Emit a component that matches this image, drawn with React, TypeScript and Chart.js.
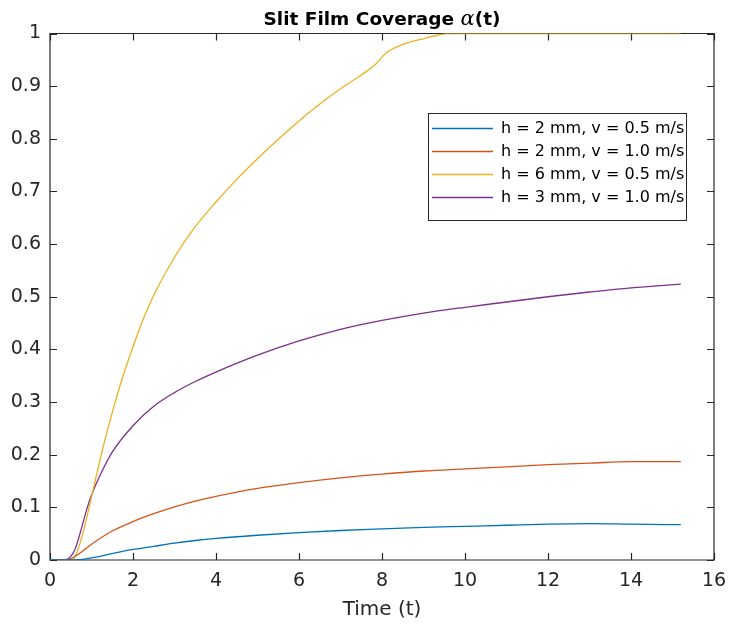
import React, { useEffect, useRef } from "react";
import { Chart, registerables } from "chart.js";

Chart.register(...registerables);

// ---- text ----
const TITLE_MAIN = "Slit Film Coverage ";
const TITLE_GREEK = "α";
const TITLE_TAIL = "(t)";
const X_LABEL = "Time (t)";

// ---- axes ----
const X_MIN = 0;
const X_MAX = 16;
const X_STEP = 2;
const Y_MIN = 0;
const Y_MAX = 1;
const Y_STEP = 0.1;

// ---- series ----
const seriesLabels = [
  "h = 2 mm, v = 0.5 m/s",
  "h = 2 mm, v = 1.0 m/s",
  "h = 6 mm, v = 0.5 m/s",
  "h = 3 mm, v = 1.0 m/s",
];
const seriesColors = ["#0072BD", "#D95319", "#EDB120", "#7E2F8E"];

const tBlue = [0, 0.3, 0.6, 1.0, 1.5, 2, 2.5, 3, 3.5, 4, 5, 6, 7, 8, 9, 10, 11, 12, 13, 14, 15.2];
const vBlue = [0, 0, 0, 0.004, 0.012, 0.02, 0.026, 0.032, 0.037, 0.041, 0.047, 0.052, 0.056, 0.059, 0.062, 0.064, 0.066, 0.068, 0.069, 0.068, 0.067];

const tRed = [0, 0.4, 0.7, 1.0, 1.5, 2, 2.5, 3, 3.5, 4, 5, 6, 7, 8, 9, 10, 11, 12, 13, 14, 15.2];
const vRed = [0, 0, 0.012, 0.03, 0.055, 0.073, 0.088, 0.101, 0.112, 0.121, 0.136, 0.147, 0.156, 0.163, 0.169, 0.173, 0.177, 0.181, 0.184, 0.187, 0.187];

const tYellow = [0, 0.5, 0.6, 0.77, 1.0, 1.25, 1.5, 1.75, 2, 2.25, 2.5, 3, 3.5, 4, 4.5, 5, 5.5, 6, 6.5, 7, 7.5, 7.85, 8.1, 8.5, 9, 9.6, 10, 12, 15.2];
const vYellow = [0, 0, 0.006, 0.044, 0.12, 0.205, 0.28, 0.347, 0.405, 0.458, 0.503, 0.575, 0.633, 0.68, 0.723, 0.762, 0.799, 0.834, 0.866, 0.895, 0.921, 0.942, 0.963, 0.979, 0.99, 1.0, 1.0, 1.0, 1.0];

const tPurple = [0, 0.3, 0.45, 0.6, 0.7, 0.9, 1.0, 1.25, 1.5, 2, 2.5, 3, 3.5, 4, 5, 6, 7, 8, 9, 10, 11, 12, 13, 14, 15.2];
const vPurple = [0, 0, 0.003, 0.02, 0.044, 0.1, 0.123, 0.168, 0.205, 0.255, 0.292, 0.318, 0.339, 0.357, 0.389, 0.416, 0.438, 0.455, 0.469, 0.48, 0.49, 0.5, 0.509, 0.517, 0.524];

const seriesTimes = [tBlue, tRed, tYellow, tPurple];
const seriesValues = [vBlue, vRed, vYellow, vPurple];

const FONT = "'DejaVu Sans', 'Liberation Sans', sans-serif";
const AXIS_COLOR = "#262626";

const framePlugin = {
  id: "matlabFrame",
  beforeDatasetsDraw(chart: any) {
    const { ctx, chartArea } = chart;
    const { left, right, top, bottom } = chartArea;
    const xs = chart.scales.x;
    const ys = chart.scales.y;
    const len = 7;
    ctx.save();
    ctx.strokeStyle = AXIS_COLOR;
    ctx.lineWidth = 1.2;
    ctx.beginPath();
    ctx.rect(left, top, right - left, bottom - top);
    for (const t of xs.ticks) {
      const px = Math.round(xs.getPixelForValue(t.value)) + 0.5;
      ctx.moveTo(px, bottom);
      ctx.lineTo(px, bottom - len);
      ctx.moveTo(px, top);
      ctx.lineTo(px, top + len);
    }
    for (const t of ys.ticks) {
      const py = Math.round(ys.getPixelForValue(t.value)) + 0.5;
      ctx.moveTo(left, py);
      ctx.lineTo(left + len, py);
      ctx.moveTo(right, py);
      ctx.lineTo(right - len, py);
    }
    ctx.stroke();
    ctx.restore();
  },
};

const titlePlugin = {
  id: "matlabTitle",
  afterDraw(chart: any) {
    const { ctx, chartArea } = chart;
    const cx = (chartArea.left + chartArea.right) / 2;
    const baseY = 25;
    ctx.save();
    ctx.fillStyle = "#000";
    ctx.textBaseline = "alphabetic";
    ctx.textAlign = "left";
    const fMain = `bold 18.5px ${FONT}`;
    const fGreek = `italic 21px 'DejaVu Serif', 'Liberation Serif', serif`;
    ctx.font = fMain;
    const w1 = ctx.measureText(TITLE_MAIN).width;
    const w3 = ctx.measureText(TITLE_TAIL).width;
    ctx.font = fGreek;
    const w2 = ctx.measureText(TITLE_GREEK).width;
    let x = cx - (w1 + w2 + w3) / 2;
    ctx.font = fMain;
    ctx.fillText(TITLE_MAIN, x, baseY);
    x += w1;
    ctx.font = fGreek;
    ctx.fillText(TITLE_GREEK, x, baseY);
    x += w2;
    ctx.font = fMain;
    ctx.fillText(TITLE_TAIL, x, baseY);
    ctx.restore();
  },
};

const legendPlugin = {
  id: "matlabLegend",
  afterDatasetsDraw(chart: any) {
    const { ctx } = chart;
    const bx = 428.5;
    const by = 113.5;
    const bw = 258;
    const bh = 107;
    ctx.save();
    ctx.fillStyle = "#fff";
    ctx.fillRect(bx, by, bw, bh);
    ctx.strokeStyle = AXIS_COLOR;
    ctx.lineWidth = 1;
    ctx.strokeRect(bx, by, bw, bh);
    ctx.font = `16px ${FONT}`;
    ctx.textBaseline = "middle";
    ctx.textAlign = "left";
    chart.data.datasets.forEach((ds: any, i: number) => {
      const y = 128 + i * 23;
      ctx.strokeStyle = ds.borderColor;
      ctx.lineWidth = 1.3;
      ctx.beginPath();
      ctx.moveTo(432, y + 0.5);
      ctx.lineTo(493, y + 0.5);
      ctx.stroke();
      ctx.fillStyle = "#000";
      ctx.fillText(ds.label, 501, y + 1);
    });
    ctx.restore();
  },
};

export default function App() {
  const ref = useRef<HTMLCanvasElement>(null);

  useEffect(() => {
    const datasets = seriesLabels.map((label, i) => ({
      label,
      data: seriesTimes[i].map((t, j) => ({ x: t, y: seriesValues[i][j] })),
      borderColor: seriesColors[i],
      backgroundColor: seriesColors[i],
      borderWidth: 1.3,
      pointRadius: 0,
      fill: false,
      cubicInterpolationMode: "monotone" as const,
    }));

    const chart = new Chart(ref.current as HTMLCanvasElement, {
      type: "line",
      data: { datasets },
      options: {
        responsive: false,
        animation: false,
        devicePixelRatio: 1,
        layout: { padding: { top: 33.5, right: 15, left: 0, bottom: 0 } },
        plugins: {
          legend: { display: false },
          title: { display: false },
          tooltip: { enabled: false },
        },
        scales: {
          x: {
            type: "linear",
            min: X_MIN,
            max: X_MAX,
            ticks: {
              stepSize: X_STEP,
              color: AXIS_COLOR,
              font: { family: FONT, size: 19 },
              padding: 10,
              maxRotation: 0,
              autoSkip: false,
            },
            grid: { display: false, drawTicks: false },
            border: { display: false },
            title: {
              display: true,
              text: X_LABEL,
              color: AXIS_COLOR,
              font: { family: FONT, size: 20 },
              padding: { top: 0, bottom: 6 },
            },
            afterFit: (s: any) => {
              s.height = 68;
              s.paddingLeft = 0;
              s.paddingRight = 0;
            },
          },
          y: {
            type: "linear",
            min: Y_MIN,
            max: Y_MAX,
            ticks: {
              stepSize: Y_STEP,
              color: AXIS_COLOR,
              font: { family: FONT, size: 19 },
              padding: 9,
              callback: (v: any) => {
                const n = Number(v);
                if (Math.abs(n) < 1e-9) return "0";
                if (Math.abs(n - 1) < 1e-9) return "1";
                return n.toFixed(1);
              },
            },
            grid: { display: false, drawTicks: false },
            border: { display: false },
            afterFit: (s: any) => {
              s.width = 50;
              s.paddingTop = 0;
              s.paddingBottom = 0;
            },
          },
        },
      },
      plugins: [framePlugin, legendPlugin, titlePlugin],
    });
    return () => chart.destroy();
  }, []);

  return (
    <div style={{ position: "absolute", left: 0, top: 0, width: 729, height: 628, background: "#fff" }}>
      <canvas ref={ref} width={729} height={628} style={{ display: "block" }} />
    </div>
  );
}
